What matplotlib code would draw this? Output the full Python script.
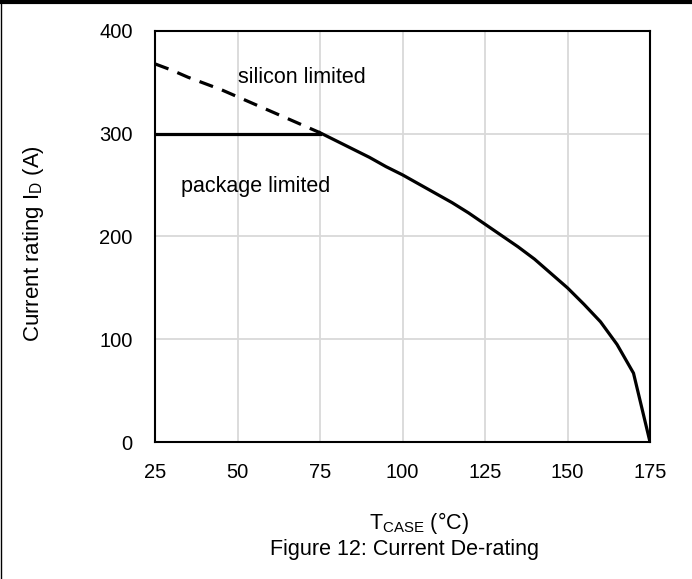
import numpy as np
import matplotlib
matplotlib.use('Agg')
import matplotlib.pyplot as plt
from matplotlib.lines import Line2D

plt.rcParams['font.family'] = ['Liberation Sans', 'DejaVu Sans']
plt.rcParams['mathtext.fontset'] = 'custom'
plt.rcParams['mathtext.rm'] = 'Liberation Sans'

# silicon limited curve
t_case = [25, 30, 35, 40, 45, 50, 55, 60, 65, 70, 75, 80, 85, 90, 95, 100,
          105, 110, 115, 120, 125, 130, 135, 140, 145, 150, 155, 160, 165, 170, 175]
i_silicon = [368, 362, 355, 349, 343, 336, 329, 322, 315, 308, 301, 293, 285, 277, 268, 260,
             251, 242, 233, 223, 212, 201, 190, 178, 164, 150, 134, 117, 95, 67, 0]
# package limit
t_pkg = [25, 75]
i_pkg = [300, 300]
t_knee = 75

x_ticks = [25, 50, 75, 100, 125, 150, 175]
y_ticks = [0, 100, 200, 300, 400]

fig = plt.figure(figsize=(6.92, 5.79), dpi=100)
ax = fig.add_axes([155/692, 1-442/579, 495/692, 411/579])

t = np.array(t_case)
i = np.array(i_silicon)
dash = t <= t_knee
solid = t >= t_knee
ax.plot(t[dash], i[dash], color='black', lw=2.3, ls=(0, (4.5, 3)), solid_capstyle='butt')
ax.plot(t[solid], i[solid], color='black', lw=2.3)
ax.plot(t_pkg, i_pkg, color='black', lw=2.3)

ax.set_xlim(25, 175)
ax.set_ylim(0, 400)
ax.set_xticks(x_ticks)
ax.set_yticks(y_ticks)
ax.grid(True, color='#d9d9d9', lw=1.3)
ax.set_axisbelow(True)
ax.tick_params(length=0, labelsize=14.5)
ax.tick_params(axis='x', pad=15)
ax.tick_params(axis='y', pad=16)
for s in ax.spines.values():
    s.set_color('black')
    s.set_linewidth(1.5)

ax.text(50.2, 355, 'silicon limited', fontsize=15.5, va='center')
ax.text(32.9, 249, 'package limited', fontsize=15.5, va='center')

fig.text(34/692, 1-244/579, r'Current rating $\mathregular{I_D}$ (A)', rotation=90,
         ha='center', va='center', fontsize=16)
fig.text(419/692, 1-523/579, r'$\mathregular{T_{CASE}}$ (°C)', ha='center', va='center', fontsize=15.5)
fig.text(404/692, 1-550/579, 'Figure 12: Current De-rating', ha='center', va='center', fontsize=15.5)

# page frame
fig.add_artist(Line2D([0, 1], [1-2/579, 1-2/579], color='black', lw=3, transform=fig.transFigure))
fig.add_artist(Line2D([0.5/692, 0.5/692], [0, 1], color='black', lw=1, transform=fig.transFigure))

fig.savefig('out.png', dpi=100)
